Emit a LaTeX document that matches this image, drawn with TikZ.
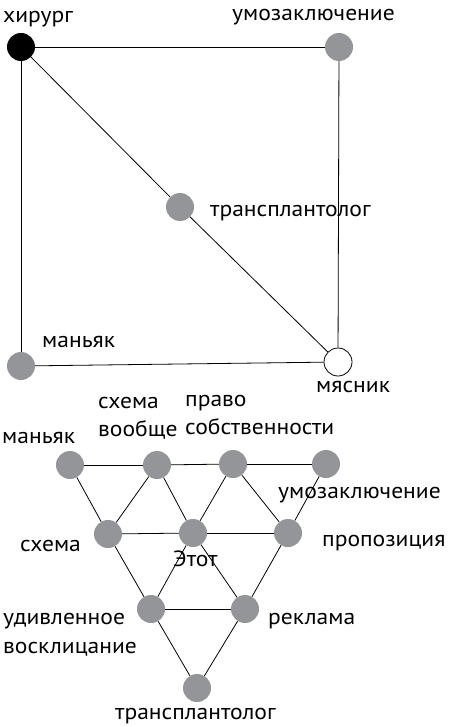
\documentclass[tikz,border=0pt]{standalone}
\usepackage{fontspec}
\setmainfont{PT Sans}[FakeStretch=1.07]
\definecolor{dotgray}{HTML}{939598}
\begin{document}
\begin{tikzpicture}[x=1pt,y=-1pt,
  dot/.style={circle,inner sep=0pt,minimum size=28pt,fill=dotgray},
  blackdot/.style={dot,fill=black},
  whitedot/.style={dot,fill=white,draw=black,line width=0.8pt},
  edge/.style={draw=black,line width=0.8pt},
  lbl/.style={anchor=base west,inner sep=0pt,font=\fontsize{22}{26}\selectfont}]
\useasboundingbox (0,0) rectangle (449,727);
% top graph
\node[blackdot] (h) at (21,47) {};
\node[dot] (u) at (339,47) {};
\node[dot] (t) at (180,207) {};
\node[dot] (m) at (21,366) {};
\node[whitedot] (b) at (338,362) {};
\draw[edge] (h) -- (u);
\draw[edge] (h) -- (m);
\draw[edge] (h) -- (t);
\draw[edge] (t) -- (b);
\draw[edge] (u) -- (b);
\draw[edge] (m) -- (b);
\node[lbl] (lh) at (3,23) {хирург};
\node[lbl] (lu) at (232,21) {умозаключение};
\node[lbl] (lt) at (210,216) {трансплантолог};
\node[lbl] (lm) at (42,347) {маньяк};
\node[lbl] (lb) at (316,392) {мясник};
% bottom graph
\node[dot] (a1) at (70,465) {};
\node[dot] (a2) at (157,465) {};
\node[dot] (a3) at (233,464) {};
\node[dot] (a4) at (326,464) {};
\node[dot] (b1) at (108,534) {};
\node[dot] (b2) at (193,533) {};
\node[dot] (b3) at (288,533) {};
\node[dot] (c1) at (151,609) {};
\node[dot] (c2) at (245,609) {};
\node[dot] (d1) at (197,688) {};
\draw[edge] (a1) -- (a2);
\draw[edge] (a2) -- (a3);
\draw[edge] (a3) -- (a4);
\draw[edge] (a1) -- (b1);
\draw[edge] (a2) -- (b1);
\draw[edge] (a2) -- (b2);
\draw[edge] (a3) -- (b2);
\draw[edge] (a3) -- (b3);
\draw[edge] (a4) -- (b3);
\draw[edge] (b1) -- (b2);
\draw[edge] (b2) -- (b3);
\draw[edge] (b1) -- (c1);
\draw[edge] (b2) -- (c1);
\draw[edge] (b2) -- (c2);
\draw[edge] (b3) -- (c2);
\draw[edge] (c1) -- (c2);
\draw[edge] (c1) -- (d1);
\draw[edge] (c2) -- (d1);
\node[lbl] (la1) at (2,443) {маньяк};
\node[lbl] (la2a) at (98,408) {схема};
\node[lbl] (la2b) at (98,436) {вообще};
\node[lbl] (la3a) at (185,406) {право};
\node[lbl] (la3b) at (185,434) {собственности};
\node[lbl] (la4) at (278,498) {умозаключение};
\node[lbl] (lb1) at (20,551) {схема};
\node[lbl] (lb2) at (173,566) {Этот};
\node[lbl] (lb3) at (322,546) {пропозиция};
\node[lbl] (lc1a) at (3,624) {удивленное};
\node[lbl] (lc1b) at (3,653) {восклицание};
\node[lbl] (lc2) at (268,624) {реклама};
\node[lbl] (ld1) at (115,719) {трансплантолог};
\end{tikzpicture}
\end{document}
